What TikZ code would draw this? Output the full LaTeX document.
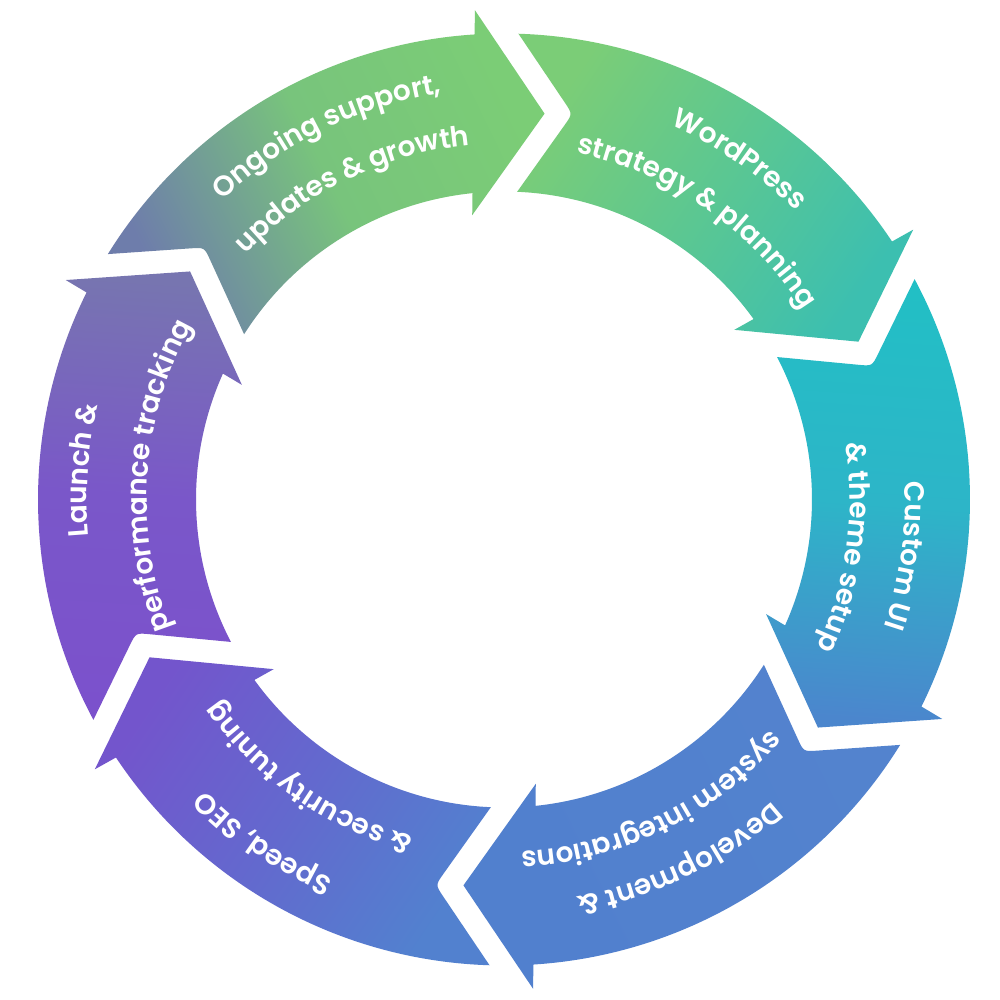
\documentclass[tikz,border=0pt]{standalone}
\usepackage{fontspec}
\setmainfont{Poppins SemiBold}
\usetikzlibrary{calc,decorations.text}
% head / middle / tail colours
\definecolor{sAh}{HTML}{7BCD76}\definecolor{sAm}{HTML}{78C47C}\definecolor{sAt}{HTML}{6E7DAB}
\definecolor{sBh}{HTML}{3CBFB0}\definecolor{sBm}{HTML}{5BC792}\definecolor{sBt}{HTML}{7BCD77}
\definecolor{sCh}{HTML}{4B86CD}\definecolor{sCm}{HTML}{2DB5C8}\definecolor{sCt}{HTML}{22BFC5}
\definecolor{sDh}{HTML}{5180CE}\definecolor{sDm}{HTML}{5281CE}\definecolor{sDt}{HTML}{5383CE}
\definecolor{sEh}{HTML}{7355CC}\definecolor{sEm}{HTML}{6369CE}\definecolor{sEt}{HTML}{5281CF}
\definecolor{sFh}{HTML}{7775B0}\definecolor{sFm}{HTML}{7A57C9}\definecolor{sFt}{HTML}{7B51CC}
% #1 tip angle, #2 head colour, #3 middle colour, #4 tail colour
\newcommand\ringseg[4]{%
  \pgfmathsetmacro\tp{#1+60}%
  \pgfmathsetmacro\sa{#1-148}%
  \coordinate (Qo) at (\tp+4.22:466);
  \coordinate (N)  at (\tp-4.08:391.55);
  \coordinate (Qi) at (\tp+3.55:308);
  \coordinate (Po) at (#1+9.62:466);
  \coordinate (B1) at (#1+9.40:490.15);
  \coordinate (T)  at (#1:388);
  \coordinate (B2) at (#1+12.38:286.08);
  \coordinate (Pi) at (#1+11.87:308);
  \shade[top color=#2, bottom color=#4, middle color=#3, shading angle=\sa]
    (Qo) arc[start angle=\tp+4.22, end angle=#1+9.62, radius=466]
    -- (B1) -- (T) -- (B2) -- (Pi)
    arc[start angle=#1+11.87, end angle=\tp+3.55, radius=308]
    -- ($(N)!14pt!(Qi)$) .. controls (N) .. ($(N)!14pt!(Qo)$) -- cycle;
}
% #1 centre angle, #2 baseline radius, #3 text
\newcommand\ringtext[3]{%
  \path[decorate, decoration={text along path, text align=center,
        text color=white, text={#3}}]
    (#1+40:#2) arc[start angle=#1+40, end angle=#1-40, radius=#2];
}
\begin{document}
\begin{tikzpicture}[x=1pt,y=1pt]
\fill[white] (-504,-500.5) rectangle (496,499.5);
\useasboundingbox (-504,-500.5) rectangle (496,499.5);
\fontsize{28}{34}\selectfont
\ringseg{84}{sAh}{sAm}{sAt}
\ringseg{24}{sBh}{sBm}{sBt}
\ringseg{-36}{sCh}{sCm}{sCt}
\ringseg{-96}{sDh}{sDm}{sDt}
\ringseg{-156}{sEh}{sEm}{sEt}
\ringseg{144}{sFh}{sFm}{sFt}
\ringtext{116}{411}{Ongoing support,}
\ringtext{116}{356}{updates {\&} growth}
\ringtext{55.3}{410}{WordPress}
\ringtext{55.3}{354}{strategy {\&} planning}
\ringtext{-8}{401}{Custom UI}
\ringtext{-8}{346}{{\&} theme setup}
\ringtext{-64}{404}{Development {\&}}
\ringtext{-64}{352}{system integrations}
\ringtext{-125}{417}{Speed, SEO}
\ringtext{-125}{349}{{\&} security tuning}
\ringtext{176}{417}{Launch {\&}}
\ringtext{176}{357}{performance tracking}
\end{tikzpicture}
\end{document}
